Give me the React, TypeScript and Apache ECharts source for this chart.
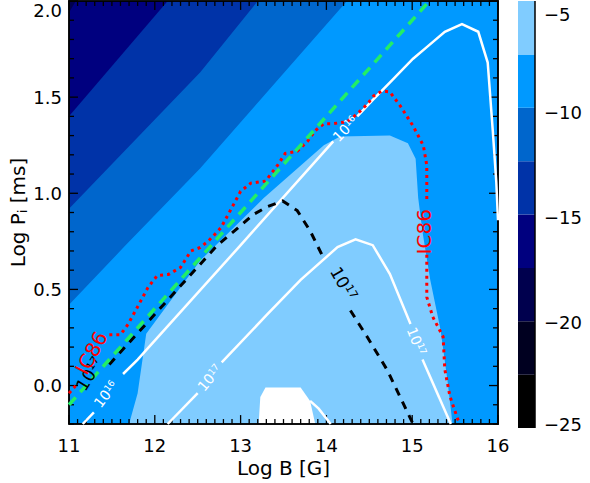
import React, { useEffect, useRef } from "react";
import * as echarts from "echarts";

const FONT = "'DejaVu Sans', 'Liberation Sans', sans-serif";

// axis ranges and ticks
const logBRange = [11, 16];
const logPRange = [-0.2, 2.0];
const logBTickLabels = [11, 12, 13, 14, 15, 16];
const logPTickLabels = [0.0, 0.5, 1.0, 1.5, 2.0];
const logBMinorPerMajor = 10;
const logPMinorStep = 0.1;
const colorbarTicks = [-25, -20, -15, -10, -5];

// colour-bar levels (bottom to top) and their colours
const levels = [-25, -22.46, -19.92, -17.38, -14.84, -12.3, -9.76, -7.22, -4.68];
const levelColors = ["#000000", "#000020", "#00004e", "#00007f", "#0033a8", "#0066cc", "#0099ff", "#80ccff"];
const aboveTopColor = "#ffffff";

// filled-contour boundaries, [log B, log P]
const edgeM1738 = [[11.0, 1.94], [11.08, 2.0]];
const edgeM1484 = [[11.0, 1.4], [12.15, 2.0]];
const edgeM1230 = [[11.0, 0.92], [12.53, 1.63], [13.2, 2.0]];
const edgeM976 = [[11.0, 0.42], [11.64, 0.72], [12.53, 1.13], [14.24, 2.0]];
const regionM722 = [
  [11.7, -0.2], [11.8, -0.04], [11.9, 0.27], [12.53, 0.65], [13.27, 0.975], [13.97, 1.25],
  [14.16, 1.295], [14.74, 1.3], [14.95, 1.26], [15.04, 1.18], [15.07, 0.975], [15.12, 0.8],
  [15.21, 0.55], [15.33, 0.29], [15.41, 0.03], [15.47, -0.2],
];
const regionM468 = [[13.21, -0.2], [13.23, -0.06], [13.29, -0.01], [13.7, -0.01], [13.81, -0.08], [13.87, -0.2]];

// contour lines
const greenLine = [[11.0, -0.1], [15.2, 2.0]];
const white16a = [[11.16, -0.2], [11.29, -0.14]];
const white16b = [[11.63, 0.06], [11.8, 0.135], [12.98, 0.72], [14.08, 1.27]];
const white16c = [
  [14.36, 1.4], [14.55, 1.49], [14.77, 1.59], [15.01, 1.7], [15.17, 1.76], [15.38, 1.84],
  [15.58, 1.88], [15.77, 1.84], [15.88, 1.68], [15.94, 1.32], [15.98, 1.06], [16.0, 0.86],
];
const white17a = [[12.15, -0.2], [12.5, -0.04]];
const white17b = [
  [12.78, 0.12], [13.31, 0.37], [13.7, 0.55], [14.13, 0.72], [14.34, 0.76], [14.54, 0.73],
  [14.74, 0.58], [14.98, 0.32],
];
const white17c = [[15.12, 0.135], [15.45, -0.2]];
const white18 = [[13.81, -0.08], [13.91, -0.12], [14.05, -0.2]];
const black17a = [
  [11.47, 0.11], [12.73, 0.73], [12.97, 0.82], [13.15, 0.89], [13.31, 0.93], [13.49, 0.96],
  [13.66, 0.91], [13.81, 0.805], [13.97, 0.66],
];
const black17b = [[14.28, 0.39], [14.48, 0.25], [14.71, 0.08], [14.86, -0.06], [15.01, -0.2]];
const ic86a = [[11.0, -0.04], [11.1, 0.01]];
const ic86b = [
  [11.47, 0.264], [11.6, 0.264], [11.69, 0.32], [11.8, 0.41], [11.92, 0.51], [12.03, 0.573],
  [12.16, 0.578], [12.3, 0.614], [12.42, 0.7], [12.53, 0.718], [12.63, 0.754], [12.77, 0.82],
  [12.88, 0.91], [13.0, 1.01], [13.12, 1.053], [13.29, 1.063], [13.43, 1.145], [13.52, 1.207],
  [13.66, 1.218], [13.78, 1.27], [13.87, 1.326], [13.97, 1.362], [14.08, 1.362], [14.24, 1.372],
  [14.36, 1.413], [14.48, 1.465], [14.55, 1.506], [14.65, 1.532], [14.74, 1.527], [14.86, 1.455],
  [15.01, 1.35], [15.13, 1.248], [15.17, 1.145], [15.17, 0.96],
];
const ic86c = [
  [15.17, 0.68], [15.17, 0.46], [15.24, 0.357], [15.36, 0.254], [15.38, 0.084], [15.44, -0.056],
  [15.53, -0.174], [15.56, -0.2],
];

// contour annotations: anchor [log B, log P], text, superscript, angle
const annAnchors = [
  [11.43, -0.045], [12.64, 0.04], [14.22, 1.336], [15.05, 0.23],
  [14.2, 0.53], [11.24, 0.06], [11.26, 0.17], [15.14, 0.8],
];
const annTexts = ["10", "10", "10", "10", "10", "10", "IC86", "IC86"];
const annSups = ["16", "17", "16", "17", "17", "17", "", ""];
const annAngles = [52, 50, 46, -68, -60, 58, 62, 90];
const annKinds = ["w", "w", "w", "w", "k", "k", "r", "r"];

const MINUS = "\u2212";

// layout of the plot box in pixels
const PLOT = { left: 68, top: 1, width: 430, height: 427 };
const BAR = { left: 518, top: 1, width: 17, height: 427 };

export default function App() {
  const ref = useRef<HTMLDivElement>(null);

  useEffect(() => {
    const chart = echarts.init(ref.current!, null, { renderer: "svg" });
    const [x0, x1] = logBRange;
    const [y0, y1] = logPRange;
    const closeLR = [[x1, y1], [x1, y0], [x0, y0]];
    const dxPerPx = (x1 - x0) / PLOT.width;
    const dyPerPx = (y1 - y0) / PLOT.height;

    // frame strips (1.5 px) in data units
    const hw = 0.75;
    const frameStrips = [
      [[x0 - hw * dxPerPx, y0 - hw * dyPerPx], [x1 + hw * dxPerPx, y0 - hw * dyPerPx], [x1 + hw * dxPerPx, y0 + hw * dyPerPx], [x0 - hw * dxPerPx, y0 + hw * dyPerPx]],
      [[x0 - hw * dxPerPx, y1 - hw * dyPerPx], [x1 + hw * dxPerPx, y1 - hw * dyPerPx], [x1 + hw * dxPerPx, y1 + hw * dyPerPx], [x0 - hw * dxPerPx, y1 + hw * dyPerPx]],
      [[x0 - hw * dxPerPx, y0 - hw * dyPerPx], [x0 + hw * dxPerPx, y0 - hw * dyPerPx], [x0 + hw * dxPerPx, y1 + hw * dyPerPx], [x0 - hw * dxPerPx, y1 + hw * dyPerPx]],
      [[x1 - hw * dxPerPx, y0 - hw * dyPerPx], [x1 + hw * dxPerPx, y0 - hw * dyPerPx], [x1 + hw * dxPerPx, y1 + hw * dyPerPx], [x1 - hw * dxPerPx, y1 + hw * dyPerPx]],
    ];

    const fills = [
      { pts: [[x0, y0], [x1, y0], [x1, y1], [x0, y1]], color: levelColors[2] },
      { pts: [...edgeM1738, ...closeLR], color: levelColors[3] },
      { pts: [...edgeM1484, ...closeLR], color: levelColors[4] },
      { pts: [...edgeM1230, ...closeLR], color: levelColors[5] },
      { pts: [...edgeM976, ...closeLR], color: levelColors[6] },
      { pts: regionM722, color: levelColors[7] },
      { pts: regionM468, color: aboveTopColor },
      ...frameStrips.map((pts) => ({ pts, color: "#000000" })),
    ];

    // tick segments in data units (lengths converted from pixels)
    const tickSegs: number[][][] = [];
    const xStep = (logBTickLabels[1] - logBTickLabels[0]) / logBMinorPerMajor;
    const nX = Math.round((x1 - x0) / xStep);
    for (let i = 0; i <= nX; i++) {
      const v = x0 + i * xStep;
      const len = (i % logBMinorPerMajor === 0 ? 9 : 5) * dyPerPx;
      tickSegs.push([[v, y0], [v, y0 + len]]);
      tickSegs.push([[v, y1], [v, y1 - len]]);
    }
    const nY = Math.round((y1 - y0) / logPMinorStep);
    for (let i = 0; i <= nY; i++) {
      const v = y0 + i * logPMinorStep;
      const len = (Math.abs(v * 2 - Math.round(v * 2)) < 1e-6 ? 9 : 5) * dxPerPx;
      tickSegs.push([[x0, v], [x0 + len, v]]);
      tickSegs.push([[x1, v], [x1 - len, v]]);
    }

    const axisTexts: { at: number[]; text: string; axis: string }[] = [
      ...logBTickLabels.map((v) => ({ at: [v, y0], text: String(v), axis: "x" })),
      ...logPTickLabels.map((v) => ({ at: [x0, v], text: v.toFixed(1), axis: "y" })),
    ];

    const kindStyle: Record<string, { color: string; size: number }> = {
      w: { color: "#ffffff", size: 14 },
      k: { color: "#000000", size: 17 },
      r: { color: "#ff0000", size: 20 },
    };

    const lineSeries = (data: number[][], color: string, width: number, type: any, xi = 0, yi = 0) => ({
      type: "line",
      xAxisIndex: xi,
      yAxisIndex: yi,
      data,
      symbol: "none",
      showSymbol: false,
      silent: true,
      clip: false,
      z: 3,
      lineStyle: { color, width, type, cap: "butt", join: "miter" },
    });

    const option: any = {
      animation: false,
      backgroundColor: "#ffffff",
      grid: [
        { ...PLOT, containLabel: false },
        { ...BAR, containLabel: false },
      ],
      xAxis: [
        {
          type: "value",
          gridIndex: 0,
          min: x0,
          max: x1,
          interval: 1,
          position: "bottom",
          axisLine: { show: false, onZero: false },
          axisTick: { show: false },
          axisLabel: { show: false },
          splitLine: { show: false },
          name: "Log B [G]",
          nameLocation: "middle",
          nameGap: 34,
          nameTextStyle: { fontSize: 20, color: "#000", fontFamily: FONT },
        },
        { type: "value", gridIndex: 1, min: 0, max: 1, show: false },
      ],
      yAxis: [
        {
          type: "value",
          gridIndex: 0,
          min: y0,
          max: y1,
          interval: logPMinorStep,
          position: "left",
          axisLine: { show: false, onZero: false },
          axisTick: { show: false },
          axisLabel: { show: false },
          splitLine: { show: false },
          name: "Log P{sub|i} [ms]",
          nameLocation: "middle",
          nameGap: 40,
          nameTextStyle: {
            fontSize: 20,
            color: "#000",
            fontFamily: FONT,
            rich: { sub: { fontSize: 13, fontFamily: FONT, color: "#000", verticalAlign: "bottom", padding: [9, 0, 0, 0] } },
          },
        },
        {
          type: "value",
          gridIndex: 1,
          position: "right",
          min: levels[0],
          max: levels[levels.length - 1],
          interval: 5,
          axisLine: { show: false, onZero: false },
          axisTick: { show: false },
          splitLine: { show: false },
          axisLabel: {
            show: true,
            showMaxLabel: false,
            margin: 9,
            fontSize: 18,
            color: "#000",
            fontFamily: FONT,
            formatter: (v: number) => {
              const hit = colorbarTicks.find((t) => Math.abs(t - v) < 1e-6);
              if (hit === undefined) return "";
              const s = (hit < 0 ? MINUS : "") + Math.abs(hit);
              if (hit === colorbarTicks[colorbarTicks.length - 1]) return `{top|${s}}`;
              if (hit === colorbarTicks[0]) return `{bot|${s}}`;
              return s;
            },
            rich: {
              top: { fontSize: 18, fontFamily: FONT, color: "#000", padding: [14, 0, 0, 0] },
              bot: { fontSize: 18, fontFamily: FONT, color: "#000", padding: [0, 0, 8, 0] },
            },
          },
        },
      ],
      series: [
        {
          type: "custom",
          xAxisIndex: 0,
          yAxisIndex: 0,
          silent: true,
          clip: false,
          z: 1,
          data: fills.map((_, i) => [x0, y0, i]),
          renderItem: (params: any, api: any) => {
            const f = fills[params.dataIndex];
            return {
              type: "polygon",
              shape: { points: f.pts.map((p) => api.coord(p)) },
              style: { fill: f.color },
            };
          },
        },
        {
          type: "custom",
          xAxisIndex: 1,
          yAxisIndex: 1,
          silent: true,
          z: 1,
          data: levelColors.map((_, i) => [0, levels[i], i]),
          renderItem: (params: any, api: any) => {
            const i = params.dataIndex;
            const a = api.coord([0, levels[i + 1]]);
            const b = api.coord([1, levels[i]]);
            return {
              type: "rect",
              shape: { x: a[0], y: a[1], width: b[0] - a[0], height: b[1] - a[1] },
              style: { fill: levelColors[i] },
            };
          },
        },
        // plot frame and colour-bar edge
        lineSeries([[x0, y0], [x1, y0], [x1, y1], [x0, y1], [x0, y0]], "#000000", 1.5, "solid"),
        lineSeries([[1, levels[0]], [1, levels[levels.length - 1]]], "#000000", 1.5, "solid", 1, 1),
        // inward ticks
        ...tickSegs.map((seg) => lineSeries(seg, "#000000", 1.3, "solid")),
        lineSeries(white16a, "#ffffff", 2.5, "solid"),
        lineSeries(white16b, "#ffffff", 2.5, "solid"),
        lineSeries(white16c, "#ffffff", 2.5, "solid"),
        lineSeries(white17a, "#ffffff", 2.5, "solid"),
        lineSeries(white17b, "#ffffff", 2.5, "solid"),
        lineSeries(white17c, "#ffffff", 2.5, "solid"),
        lineSeries(white18, "#ffffff", 2.5, "solid"),
        lineSeries(black17a, "#000000", 3, [8, 7]),
        lineSeries(black17b, "#000000", 3, [8, 7]),
        lineSeries(ic86a, "#ff0000", 3, [3, 4]),
        lineSeries(ic86b, "#ff0000", 3, [3, 4]),
        lineSeries(ic86c, "#ff0000", 3, [3, 4]),
        lineSeries(greenLine, "#22ee66", 3.5, [10, 7]),
        {
          type: "custom",
          xAxisIndex: 0,
          yAxisIndex: 0,
          silent: true,
          clip: false,
          z: 5,
          data: annAnchors.map((p, i) => [p[0], p[1], i]),
          renderItem: (params: any, api: any) => {
            const i = params.dataIndex;
            const pt = api.coord(annAnchors[i]);
            const st = kindStyle[annKinds[i]];
            const sup = annSups[i];
            const text = sup ? `{b|${annTexts[i]}}{s|${sup}}` : `{b|${annTexts[i]}}`;
            return {
              type: "text",
              x: pt[0],
              y: pt[1],
              rotation: (annAngles[i] * Math.PI) / 180,
              z2: 100,
              style: {
                text,
                fill: st.color,
                fontSize: st.size,
                fontFamily: FONT,
                align: "center",
                verticalAlign: "middle",
                rich: {
                  b: { fill: st.color, fontSize: st.size, fontFamily: FONT },
                  s: { fill: st.color, fontSize: Math.round(st.size * 0.65), fontFamily: FONT, verticalAlign: "top" },
                },
              },
            };
          },
        },
        {
          // tick labels of the main plot
          type: "custom",
          xAxisIndex: 0,
          yAxisIndex: 0,
          silent: true,
          clip: false,
          z: 5,
          data: axisTexts.map((t, i) => [t.at[0], t.at[1], i]),
          renderItem: (params: any, api: any) => {
            const t = axisTexts[params.dataIndex];
            const p = api.coord(t.at);
            const isX = t.axis === "x";
            const isTop = !isX && Math.abs(t.at[1] - y1) < 1e-9;
            return {
              type: "text",
              x: isX ? p[0] : p[0] - 7,
              y: isX ? p[1] + 12 : p[1] + (isTop ? 9 : 0),
              style: {
                text: t.text,
                fill: "#000000",
                fontSize: 18,
                fontFamily: FONT,
                align: isX ? "center" : "right",
                verticalAlign: isX ? "top" : "middle",
              },
            };
          },
        },
      ],
    };

    chart.setOption(option);
    return () => chart.dispose();
  }, []);

  return (
    <div
      ref={ref}
      style={{ position: "absolute", left: 0, top: 0, width: 590, height: 483, background: "#ffffff" }}
    />
  );
}
